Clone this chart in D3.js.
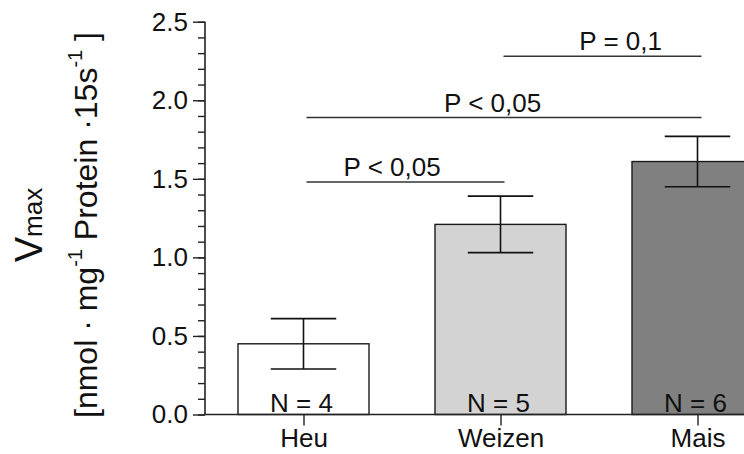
<!DOCTYPE html>
<html>
<head>
<meta charset="utf-8">
<script src="https://cdn.jsdelivr.net/npm/d3@7"></script>
<style>
  body { margin: 0; background: #fff; }
  text { font-family: "Liberation Sans", Arial, sans-serif; fill: #111; }
</style>
</head>
<body>
<div id="chart"></div>
<script>
// data
var categories = ["Heu", "Weizen", "Mais"];
var means = [0.45, 1.21, 1.61];
var errors = [0.16, 0.18, 0.16];
var counts = [4, 5, 6];
var barColors = ["#ffffff", "#d3d3d3", "#808080"];
var yTicks = [0, 0.5, 1.0, 1.5, 2.0, 2.5];

// significance brackets: from / to category, level (y value), label
var sigFrom = ["Heu", "Heu", "Weizen"];
var sigTo = ["Weizen", "Mais", "Mais"];
var sigLevel = [1.48, 1.89, 2.28];
var sigLabels = ["P < 0,05", "P < 0,05", "P = 0,1"];

var W = 744, H = 454;
var layout = {
  x0: 205, y0: 414.5, yTop: 21.7, step: 197,
  barFrac: 0.665, fontsize: 26, titleSize: 32,
  labelShift: [0.45, 0.48, 0.61] // where the P label sits along its bracket
};

var svg = d3.select("#chart").append("svg")
  .attr("width", W).attr("height", H);

var y = d3.scaleLinear().domain([0, 2.5]).range([layout.y0, layout.yTop]);
var x = d3.scalePoint().domain(categories)
  .range([layout.x0, layout.x0 + layout.step * 3]).padding(0.5);
var bw = x.step() * layout.barFrac;

var data = categories.map(function(c, i) {
  return {cat: c, mean: means[i], err: errors[i], n: counts[i], color: barColors[i]};
});

// bars
svg.selectAll(".bar").data(data).enter().append("rect").attr("class", "bar")
  .attr("x", function(d) { return x(d.cat) - bw / 2; })
  .attr("y", function(d) { return y(d.mean); })
  .attr("width", bw)
  .attr("height", function(d) { return y(0) - y(d.mean); })
  .style("fill", function(d) { return d.color; })
  .style("stroke", "#1a1a1a").style("stroke-width", 1.4);

// error bars
var eb = svg.selectAll(".err").data(data).enter().append("g").attr("class", "err")
  .style("stroke", "#111").style("stroke-width", 1.6);
eb.append("line")
  .attr("x1", function(d) { return x(d.cat); }).attr("x2", function(d) { return x(d.cat); })
  .attr("y1", function(d) { return y(d.mean - d.err); })
  .attr("y2", function(d) { return y(d.mean + d.err); });
eb.append("line")
  .attr("x1", function(d) { return x(d.cat) - bw / 4; }).attr("x2", function(d) { return x(d.cat) + bw / 4; })
  .attr("y1", function(d) { return y(d.mean + d.err); }).attr("y2", function(d) { return y(d.mean + d.err); });
eb.append("line")
  .attr("x1", function(d) { return x(d.cat) - bw / 4; }).attr("x2", function(d) { return x(d.cat) + bw / 4; })
  .attr("y1", function(d) { return y(d.mean - d.err); }).attr("y2", function(d) { return y(d.mean - d.err); });

// N labels inside bars
svg.selectAll(".nlab").data(data).enter().append("text").attr("class", "nlab")
  .attr("x", function(d) { return x(d.cat) - 2; })
  .attr("y", y(0) - 3)
  .attr("text-anchor", "middle").style("font-size", layout.fontsize + "px")
  .text(function(d) { return "N = " + d.n; });

// y axis with minor ticks
var yAxis = svg.append("g").attr("transform", "translate(" + layout.x0 + ",0)");
yAxis.call(d3.axisLeft(y).tickValues(d3.range(0, 2.51, 0.1)).tickSize(7).tickFormat(""));
yAxis.call(function(g) { g.select(".domain").remove(); });
var yMajor = svg.append("g").attr("transform", "translate(" + layout.x0 + ",0)")
  .call(d3.axisLeft(y).tickValues(yTicks).tickSize(12).tickPadding(5).tickFormat(d3.format(".1f")));
yMajor.select(".domain").attr("d", "M0," + y(0) + "V" + y(2.5));
svg.selectAll(".tick line").style("stroke", "#222").style("stroke-width", 1.4);
yMajor.selectAll(".domain").style("stroke", "#222").style("stroke-width", 1.6);
yMajor.selectAll("text").style("font-size", layout.fontsize + "px")
  .style("font-family", "Liberation Sans, Arial, sans-serif").attr("fill", "#111");

// x axis
var xAxis = svg.append("g").attr("transform", "translate(0," + y(0) + ")")
  .call(d3.axisBottom(x).tickSize(11).tickPadding(3));
xAxis.select(".domain").attr("d", "M" + layout.x0 + ",0H" + W)
  .style("stroke", "#222").style("stroke-width", 1.6);
xAxis.selectAll(".tick line").style("stroke", "#222").style("stroke-width", 1.4);
xAxis.selectAll("text").style("font-size", layout.fontsize + "px")
  .style("font-family", "Liberation Sans, Arial, sans-serif").attr("fill", "#111");

// significance brackets
var sig = sigLabels.map(function(l, i) {
  return {from: sigFrom[i], to: sigTo[i], level: sigLevel[i], label: l, shift: layout.labelShift[i]};
});
svg.selectAll(".sigline").data(sig).enter().append("line").attr("class", "sigline")
  .attr("x1", function(d) { return x(d.from) + 3; })
  .attr("x2", function(d) { return x(d.to) + 4; })
  .attr("y1", function(d) { return y(d.level); }).attr("y2", function(d) { return y(d.level); })
  .style("stroke", "#333").style("stroke-width", 1.5);
svg.selectAll(".siglab").data(sig).enter().append("text").attr("class", "siglab")
  .attr("x", function(d) { return x(d.from) + (x(d.to) - x(d.from)) * d.shift; })
  .attr("y", function(d) { return y(d.level) - 6; })
  .attr("text-anchor", "middle").style("font-size", layout.fontsize + "px")
  .text(function(d) { return d.label; });

// y title
var title = svg.append("g").attr("transform", "translate(0,225) rotate(-90)");
var t1 = title.append("text").attr("x", 0).attr("y", 42).attr("text-anchor", "middle")
  .style("font-size", "38px");
t1.append("tspan").text("V");
t1.append("tspan").attr("dy", 0).style("font-size", "26px").text("max");
var t2 = title.append("text").attr("x", 0).attr("y", 97).attr("text-anchor", "middle")
  .style("font-size", layout.titleSize + "px");
t2.append("tspan").text("[nmol \u00b7 mg");
t2.append("tspan").attr("dy", -15).style("font-size", "20px").text("-1");
t2.append("tspan").attr("dy", 15).text(" Protein \u00b715s");
t2.append("tspan").attr("dy", -15).style("font-size", "20px").text("-1");
t2.append("tspan").attr("dy", 15).text(" ]");
</script>
</body>
</html>
